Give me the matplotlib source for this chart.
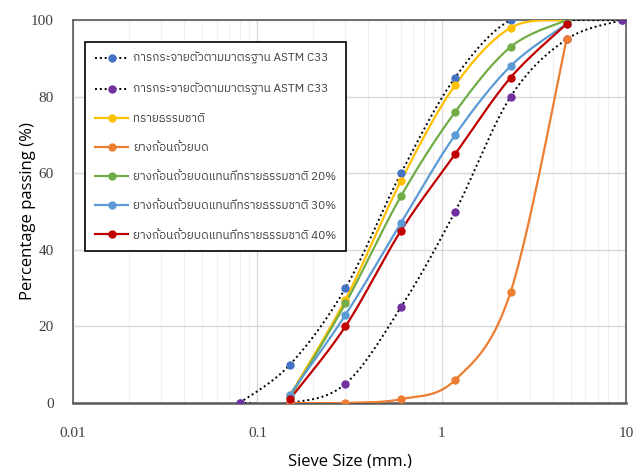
import numpy as np
import matplotlib
matplotlib.use("Agg")
import matplotlib.pyplot as plt
from matplotlib import font_manager
from matplotlib.ft2font import FT2Font

# sieve sizes (mm)
SIEVE = [0.08, 0.15, 0.3, 0.6, 1.18, 2.36, 4.75, 9.5]

# ASTM C33 envelope
ASTM_UPPER_X = [0.08, 0.15, 0.3, 0.6, 1.18, 2.36, 4.75, 9.5]
ASTM_UPPER_Y = [0, 10, 30, 60, 85, 100, 100, 100]
ASTM_LOWER_X = [0.08, 0.15, 0.3, 0.6, 1.18, 2.36, 4.75, 9.5]
ASTM_LOWER_Y = [0, 0, 5, 25, 50, 80, 95, 100]

# measured gradings
MIX_X = [0.15, 0.3, 0.6, 1.18, 2.36, 4.75]
SAND_Y = [2, 27, 58, 83, 98, 100]
RUBBER_Y = [0, 0, 1, 6, 29, 95]
MIX20_Y = [1.5, 26, 54, 76, 93, 100]
MIX30_Y = [2.2, 23, 47, 70, 88, 99]
MIX40_Y = [1, 20, 45, 65, 85, 99]

LABELS = [
    "การกระจายตัวตามมาตรฐาน ASTM C33",
    "การกระจายตัวตามมาตรฐาน ASTM C33",
    "ทรายธรรมชาติ",
    "ยางก้อนถ้วยบด",
    "ยางก้อนถ้วยบดแทนที่ทรายธรรมชาติ 20%",
    "ยางก้อนถ้วยบดแทนที่ทรายธรรมชาติ 30%",
    "ยางก้อนถ้วยบดแทนที่ทรายธรรมชาติ 40%",
]


def thai_font():
    found = []
    for f in font_manager.fontManager.ttflist:
        try:
            if 0x0E01 in FT2Font(f.fname).get_charmap():
                found.append(f.name)
        except Exception:
            pass
    # loopless faces look closer to the original
    for name in found:
        if "Thai" in name and "Looped" not in name:
            return name
    return found[0] if found else None


def smooth(x, y, n=30, wpx=553.0, hpx=383.0):
    """Excel-like smoothed line: Catmull-Rom in screen space (log x)."""
    u = (np.log10(np.asarray(x, float)) + 2) / 3 * wpx
    v = np.asarray(y, float) / 100 * hpx
    P = np.column_stack([u, v])
    P = np.vstack([P[0], P, P[-1]])
    out = []
    for i in range(1, len(P) - 2):
        p0, p1, p2, p3 = P[i - 1], P[i], P[i + 1], P[i + 2]
        c1 = p1 + (p2 - p0) / 6
        c2 = p2 - (p3 - p1) / 6
        t = np.linspace(0, 1, n)[:, None]
        seg = ((1 - t) ** 3) * p1 + 3 * ((1 - t) ** 2) * t * c1 + 3 * (1 - t) * t ** 2 * c2 + t ** 3 * p2
        out.append(seg if i == 1 else seg[1:])
    out = np.vstack(out)
    xs = 10 ** (out[:, 0] / wpx * 3 - 2)
    ys = out[:, 1] / hpx * 100
    return xs, ys


th = thai_font()
fam = [th, "DejaVu Sans"] if th else ["DejaVu Sans"]

fig = plt.figure(figsize=(6.41, 4.68), dpi=100)
ax = fig.add_axes([0.114, 0.139, 0.863, 0.818])

series = [
    (ASTM_UPPER_X, ASTM_UPPER_Y, "#4472C4", True),
    (ASTM_LOWER_X, ASTM_LOWER_Y, "#7030A0", True),
    (MIX_X, SAND_Y, "#FFC000", False),
    (MIX_X, RUBBER_Y, "#ED7D31", False),
    (MIX_X, MIX20_Y, "#70AD47", False),
    (MIX_X, MIX30_Y, "#5B9BD5", False),
    (MIX_X, MIX40_Y, "#C00000", False),
]

handles = []
for (x, y, c, dotted), lab in zip(series, LABELS):
    xs, ys = smooth(x, y)
    if dotted:
        ax.plot(xs, ys, color="black", lw=1.4, ls=(0, (1, 1.5)), zorder=3)
        ax.plot(x, y, ls="none", marker="o", ms=5, color=c, zorder=4)
        h, = ax.plot([], [], color="black", lw=1.4, ls=(0, (1, 1.5)),
                     marker="o", ms=5, mfc=c, mec=c)
    else:
        ax.plot(xs, ys, color=c, lw=1.6, zorder=3)
        ax.plot(x, y, ls="none", marker="o", ms=5, color=c, zorder=4)
        h, = ax.plot([], [], color=c, lw=1.6, marker="o", ms=5)
    handles.append(h)

ax.set_xscale("log")
ax.set_xlim(0.01, 10)
ax.set_ylim(0, 100)
ax.set_yticks([0, 20, 40, 60, 80, 100])
ax.set_xticks([0.01, 0.1, 1, 10])
ax.set_xticklabels(["0.01", "0.1", "1", "10"])
ax.grid(True, which="major", color="#D9D9D9", lw=1.0)
ax.grid(True, which="minor", axis="x", color="#EFEFEF", lw=0.8)
ax.tick_params(which="both", length=0)
ax.tick_params(axis="x", pad=17)
ax.tick_params(axis="y", pad=14)
for lab in ax.get_xticklabels() + ax.get_yticklabels():
    lab.set_fontfamily("Liberation Serif")
    lab.set_fontsize(11)
    lab.set_color("#404040")
for s in ax.spines.values():
    s.set_color("#595959")
    s.set_linewidth(1.2)
ax.spines["bottom"].set_linewidth(1.8)
ax.set_axisbelow(True)

ax.set_xlabel("Sieve Size (mm.)", fontsize=12, family="Open Sans", labelpad=10)
ax.set_ylabel("Percentage passing (%)", fontsize=12, family="Open Sans", labelpad=-4)

leg = ax.legend(handles, LABELS, loc="upper left", bbox_to_anchor=(0.0217, 0.9426),
                borderaxespad=0, frameon=True, fancybox=False, framealpha=1,
                prop={"family": fam, "size": 8.5}, labelspacing=1.55,
                handlelength=2.8, handletextpad=0.4, borderpad=0.85)
leg.get_frame().set_edgecolor("black")
leg.get_frame().set_linewidth(1.2)
for t in leg.get_texts():
    t.set_color("#404040")

fig.savefig("out.png", dpi=100)
